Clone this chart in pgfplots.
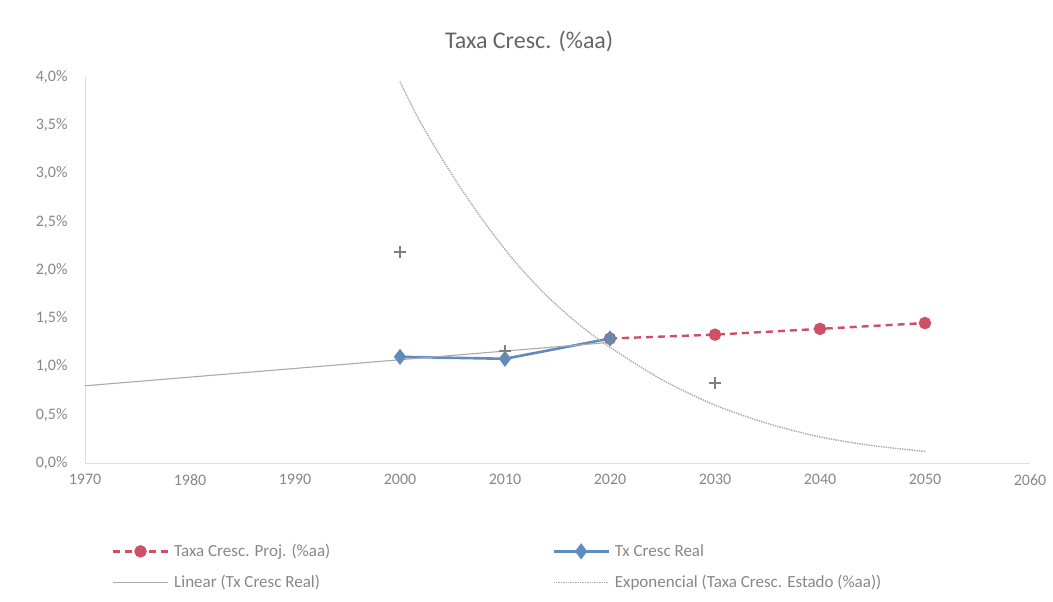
\documentclass[border=0pt]{standalone}
\usepackage{pgfplots}
\pgfplotsset{compat=1.18}
\usepackage{fontspec}
\setmainfont{Carlito}
\definecolor{txt}{RGB}{135,135,135}
\definecolor{projred}{RGB}{205,80,100}
\definecolor{realblue}{RGB}{95,140,190}
\definecolor{trend}{RGB}{170,170,170}
\definecolor{axl}{RGB}{222,222,222}
\begin{document}
\begin{tikzpicture}
\begin{axis}[
  scale only axis,
  width=945pt, height=386pt,
  xmin=1970, xmax=2060, ymin=0, ymax=4,
  xtick={1970,1980,...,2060},
  ytick={0,0.5,...,4},
  axis x line*=bottom, axis y line*=left,
  axis line style={axl, line width=0.8pt},
  tick style={draw=none},
  /pgf/number format/assume math mode=true,
  xticklabel style={font=\fontsize{16}{19}\selectfont, text=txt, /pgf/number format/1000 sep={}, yshift=-8pt},
  yticklabel style={font=\fontsize{16}{19}\selectfont, text=txt, xshift=-14pt},
  yticklabel={\pgfmathprintnumber[fixed,fixed zerofill,precision=1,use comma,assume math mode=true]{\tick}\%},
  title={Taxa Cresc. (\%aa)},
  title style={font=\fontsize{24}{28}\selectfont, text=txt!75!black, at={(axis description cs:0.47,1.078)}, anchor=center},
  legend columns=2,
  legend cell align=left,
  legend style={draw=none, fill=none, font=\fontsize{17}{20}\selectfont, text=txt,
    at={(axis description cs:0.025,-0.2)}, anchor=north west,
    nodes={inner xsep=5pt},
    /tikz/every even column/.append style={column sep=217pt},
    row sep=13pt},
  legend image code/.code={\draw[#1] (0pt,0pt) -- (55pt,0pt); \draw[#1, solid] plot coordinates {(27.5pt,0pt)};},
  clip=false,
]
% Projection
\addplot[projred, line width=2.4pt, dash pattern=on 7pt off 5pt, mark=*, mark size=5pt, mark options={solid, fill=projred}]
  coordinates {(2020,1.29) (2030,1.33) (2040,1.39) (2050,1.45)};
\addlegendentry{Taxa Cresc. Proj. (\%aa)}
% Real
\addplot[realblue, line width=2.6pt, mark=diamond*, mark size=6pt, mark options={solid, fill=realblue}]
  coordinates {(2000,1.10) (2010,1.08) (2020,1.29)};
\addlegendentry{Tx Cresc Real}
% Linear trend
\addplot[trend, line width=1.1pt, no marks]
  coordinates {(1970,0.80) (2020,1.25)};
\addlegendentry{Linear (Tx Cresc Real)}
% Exponential trend
\addplot[trend, line width=1.4pt, densely dotted, no marks, smooth]
  coordinates {(2000,3.95) (2002,3.52) (2005,2.98) (2008,2.50) (2011,2.08) (2014,1.73) (2017,1.44) (2020,1.20) (2025,0.86) (2030,0.60) (2035,0.41) (2040,0.27) (2045,0.18) (2050,0.12)};
\addlegendentry{Exponencial (Taxa Cresc. Estado (\%aa))}
% Estado points
\addplot[only marks, mark=+, mark size=6pt, line width=1.8pt, color=gray, forget plot]
  coordinates {(2000,2.19) (2010,1.16) (2020,1.30) (2030,0.83)};
\end{axis}
\pgfresetboundingbox
\path (-85pt,-139pt) rectangle (968pt,463pt);
\end{tikzpicture}
\end{document}
